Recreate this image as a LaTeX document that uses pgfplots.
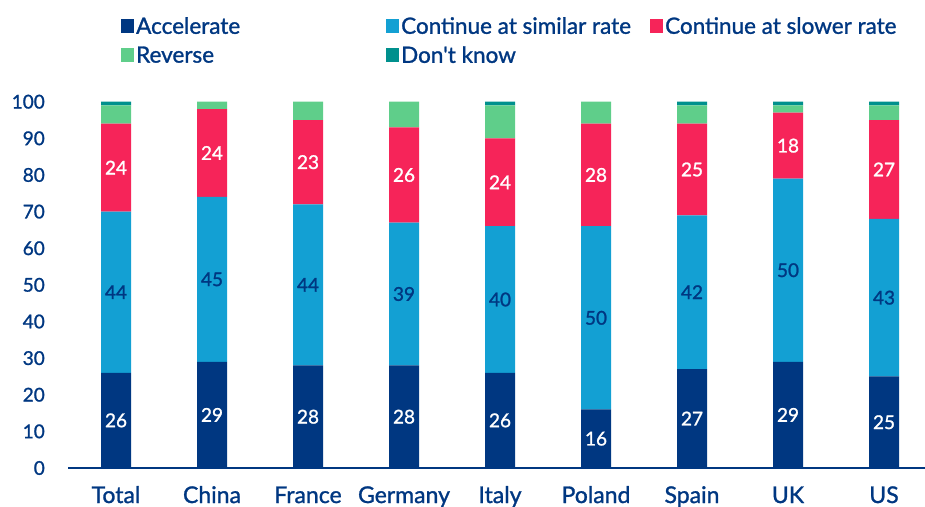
\documentclass[border=0pt]{standalone}
\usepackage{pgfplots}
\pgfplotsset{compat=1.18}
\usepackage{fontspec}
\setmainfont{Lato}[FakeBold=1.2]
\newfontfamily\med{Lato}[FakeBold=1.2]
\definecolor{navy}{HTML}{003781}
\definecolor{cblue}{HTML}{13A0D3}
\definecolor{cred}{HTML}{F62459}
\definecolor{cgreen}{HTML}{5FCE8A}
\definecolor{cteal}{HTML}{00908D}
\pgfplotsset{
  base/.style={
    at={(68pt,38pt)}, anchor=south west,
    scale only axis, width=857pt, height=366.3pt,
    xmin=-0.5, xmax=8.427, ymin=0, ymax=100,
  }
}
\begin{document}
\begin{tikzpicture}[x=1pt,y=1pt]
\useasboundingbox (0,0) rectangle (925,506);
\begin{axis}[base,
  ybar stacked, bar width=30pt,
  axis x line*=bottom, axis y line*=left,
  x axis line style={draw=navy, line width=1.3pt, -},
  y axis line style={draw=none},
  xtick={0,...,8},
  xticklabels={Total,China,France,Germany,Italy,Poland,Spain,UK,US},
  ytick={0,10,...,100},
  tick style={draw=none},
  /pgf/number format/assume math mode=true,
  yticklabel style={font=\med\fontsize{19}{19}\selectfont, text=navy, anchor=east, inner sep=0pt, xshift=-23pt},
  xticklabel style={font=\med\fontsize{23}{23}\selectfont, text=navy, anchor=base, inner sep=0pt, yshift=-35pt},
  legend columns=3,
  legend style={draw=none, fill=none, at={(0.0583,1.2421)}, anchor=north west,
    font=\med\fontsize{22.5}{22.5}\selectfont, text=navy, row sep=7pt,
    cells={anchor=west}, /tikz/every even column/.append style={column sep=0pt}},
  legend image code/.code={\fill[#1] (0pt,-7pt) rectangle (13pt,7pt);},
]
\addplot[fill=navy, draw=none] coordinates {(0,26) (1,29) (2,28) (3,28) (4,26) (5,16) (6,27) (7,29) (8,25)};
\addlegendentry{\makebox[248pt][l]{Accelerate}}
\addplot[fill=cblue, draw=none] coordinates {(0,44) (1,45) (2,44) (3,39) (4,40) (5,50) (6,42) (7,50) (8,43)};
\addlegendentry{\makebox[247pt][l]{Continue at similar rate}}
\addplot[fill=cred, draw=none] coordinates {(0,24) (1,24) (2,23) (3,26) (4,24) (5,28) (6,25) (7,18) (8,27)};
\addlegendentry{Continue at slower rate}
\addplot[fill=cgreen, draw=none] coordinates {(0,5) (1,2) (2,5) (3,7) (4,9) (5,6) (6,5) (7,2) (8,4)};
\addlegendentry{Reverse}
\addplot[fill=cteal, draw=none] coordinates {(0,1) (1,0) (2,0) (3,0) (4,1) (5,0) (6,1) (7,1) (8,1)};
\addlegendentry{Don't know}
\end{axis}
\begin{axis}[base, hide axis,
  every node near coord/.style={anchor=center, font=\med\fontsize{19}{19}\selectfont},
  nodes near coords, point meta=explicit symbolic]
\addplot[draw=none, mark=none, nodes near coords, every node near coord/.append style={text=white}]
  coordinates {(0,13)[26] (1,14.5)[29] (2,14)[28] (3,14)[28] (4,13)[26] (5,8)[16] (6,13.5)[27] (7,14.5)[29] (8,12.5)[25]};
\addplot[draw=none, mark=none, nodes near coords, every node near coord/.append style={text=navy}]
  coordinates {(0,48)[44] (1,51.5)[45] (2,50)[44] (3,47.5)[39] (4,46)[40] (5,41)[50] (6,48)[42] (7,54)[50] (8,46.5)[43]};
\addplot[draw=none, mark=none, nodes near coords, every node near coord/.append style={text=white}]
  coordinates {(0,82)[24] (1,86)[24] (2,83.5)[23] (3,80)[26] (4,78)[24] (5,80)[28] (6,81.5)[25] (7,88)[18] (8,81.5)[27]};
\end{axis}
\end{tikzpicture}
\end{document}
